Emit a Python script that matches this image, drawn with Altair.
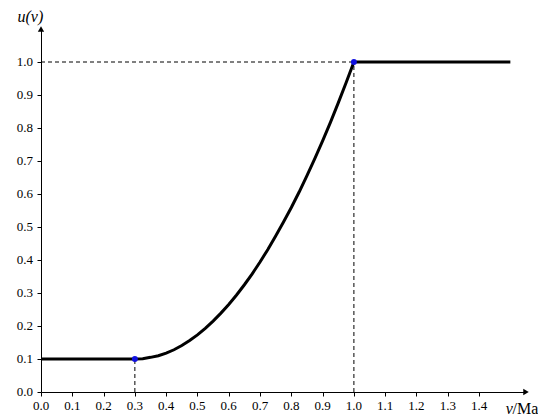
import altair as alt
import pandas as pd

# curve
v_vals = [0.0, 0.3, 0.325, 0.35, 0.375, 0.4, 0.425, 0.45, 0.475, 0.5, 0.525, 0.55, 0.575, 0.6,
          0.625, 0.65, 0.675, 0.7, 0.725, 0.75, 0.775, 0.8, 0.825, 0.85, 0.875, 0.9, 0.925,
          0.95, 0.975, 1.0, 1.5]
u_vals = [0.1, 0.1, 0.101, 0.105, 0.110, 0.118, 0.128, 0.141, 0.156, 0.173, 0.193, 0.215, 0.239, 0.265,
          0.294, 0.325, 0.358, 0.394, 0.432, 0.473, 0.515, 0.559, 0.606, 0.656, 0.707, 0.761, 0.817,
          0.876, 0.937, 1.0, 1.0]

pts_v = [0.3, 1.0]
pts_u = [0.1, 1.0]

x_ticks = [round(i * 0.1, 1) for i in range(15)]
y_ticks = [round(i * 0.1, 1) for i in range(11)]
x_tick_labels = ["%.1f" % t for t in x_ticks]
y_tick_labels = ["%.1f" % t for t in y_ticks]

# dashed guide segments
seg_x = [0.0, 1.0, 0.3]
seg_x2 = [1.0, 1.0, 0.3]
seg_y = [1.0, 0.0, 0.0]
seg_y2 = [1.0, 1.0, 0.1]

FONT = "Liberation Serif"
XD = [0, 1.55]
YD = [0, 1.1]

curve = pd.DataFrame({"v": v_vals, "u": u_vals})
pts = pd.DataFrame({"v": pts_v, "u": pts_u})
segs = pd.DataFrame({"x": seg_x, "x2": seg_x2, "y": seg_y, "y2": seg_y2})
xl = pd.DataFrame({"x": x_ticks, "y": [0.0] * len(x_ticks), "t": x_tick_labels})
yl = pd.DataFrame({"x": [0.0] * len(y_ticks), "y": y_ticks, "t": y_tick_labels})

xs = alt.Scale(domain=XD, nice=False, zero=False)
ys = alt.Scale(domain=YD, nice=False, zero=False)

xaxis = alt.Axis(values=x_ticks, grid=False, title=None, labels=False,
                 domainColor="black", tickColor="black", tickSize=4)
yaxis = alt.Axis(values=y_ticks, grid=False, title=None, labels=False,
                 domainColor="black", tickColor="black", tickSize=4)


def X(f):
    return alt.X(f, scale=xs, axis=xaxis)


def Y(f):
    return alt.Y(f, scale=ys, axis=yaxis)


base_line = alt.Chart(curve).mark_line(color="black", strokeWidth=3).encode(
    x=X("v:Q"), y=Y("u:Q"),
)

dashes = alt.Chart(segs).mark_rule(color="black", strokeWidth=1, strokeDash=[4, 3]).encode(
    x=X("x:Q"), x2="x2:Q", y=Y("y:Q"), y2="y2:Q",
)

dots = alt.Chart(pts).mark_point(filled=True, color="#1010e0", size=35, opacity=1).encode(
    x=X("v:Q"), y=Y("u:Q")
)

arrows = alt.Chart(pd.DataFrame({"x": [1.55, 0.0], "y": [0.0, 1.1], "s": ["triangle-right", "triangle-up"]})).mark_point(
    filled=True, color="black", size=40, opacity=1
).encode(
    x=X("x:Q"), y=Y("y:Q"),
    shape=alt.Shape("s:N", scale=None),
)

xlabels = alt.Chart(xl).mark_text(
    font=FONT, fontSize=13, align="center", baseline="middle", dy=14, color="black"
).encode(x=X("x:Q"), y=Y("y:Q"), text="t:N")

ylabels = alt.Chart(yl).mark_text(
    font=FONT, fontSize=13, align="right", baseline="middle", dx=-8, color="black"
).encode(x=X("x:Q"), y=Y("y:Q"), text="t:N")

lab_v = alt.Chart(pd.DataFrame({"x": [1.485], "y": [-0.05], "t": ["v"]})).mark_text(
    font=FONT, fontSize=16, fontStyle="italic", align="left", baseline="middle", color="black"
).encode(x=X("x:Q"), y=Y("y:Q"), text="t:N")

lab_ma = alt.Chart(pd.DataFrame({"x": [1.507], "y": [-0.05], "t": ["/Ma"]})).mark_text(
    font=FONT, fontSize=16, align="left", baseline="middle", color="black"
).encode(x=X("x:Q"), y=Y("y:Q"), text="t:N")

lab_u = alt.Chart(pd.DataFrame({"x": [-0.075], "y": [1.135], "t": ["u(v)"]})).mark_text(
    font=FONT, fontSize=16, fontStyle="italic", align="left", baseline="middle", color="black"
).encode(x=X("x:Q"), y=Y("y:Q"), text="t:N")

chart = alt.layer(dashes, base_line, dots, arrows, xlabels, ylabels, lab_v, lab_ma, lab_u).properties(
    width=485, height=363,
    autosize=alt.AutoSizeParams(type="none"),
    padding={"left": 33, "top": 21, "right": 12, "bottom": 30},
    background="white",
).configure_view(stroke=None)

chart.save("out.html", embed_options={"renderer": "svg", "actions": False})
